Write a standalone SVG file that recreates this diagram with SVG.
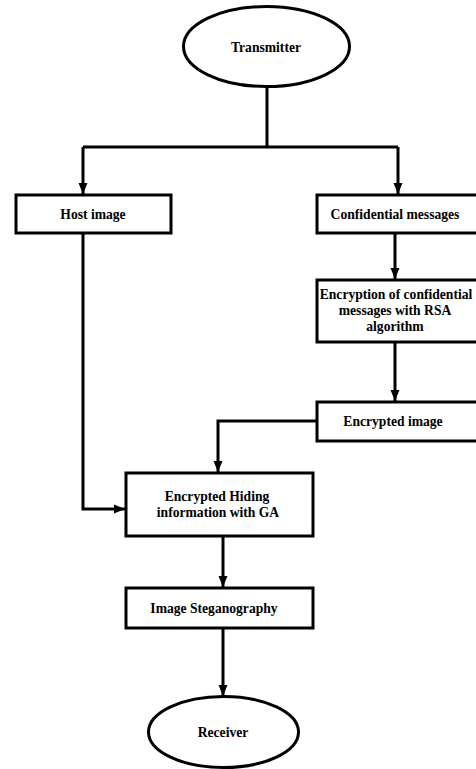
<svg xmlns="http://www.w3.org/2000/svg" width="476" height="769" viewBox="0 0 476 769">
<style>
.n{fill:#fff;stroke:#000;stroke-width:3}
.c{fill:none;stroke:#000;stroke-width:3}
text{font-family:"Liberation Serif","Times New Roman",serif;font-weight:bold;font-size:13.6px;text-anchor:middle;fill:#000}
</style>
<defs>
<marker id="ah" markerUnits="userSpaceOnUse" markerWidth="12" markerHeight="12" viewBox="0 0 12 12" refX="11" refY="6" orient="auto">
<path d="M0,1.5 L11,6 L0,10.5 Z" fill="#000"/>
</marker>
</defs>
<rect width="476" height="769" fill="#fff"/>
<g id="connectors">
<path class="c" d="M267,87 V147"/>
<path class="c" d="M83,147 H398"/>
<path class="c" d="M83,147 V194" marker-end="url(#ah)"/>
<path class="c" d="M398,147 V194" marker-end="url(#ah)"/>
<path class="c" d="M395,233 V279" marker-end="url(#ah)"/>
<path class="c" d="M395,342 V401" marker-end="url(#ah)"/>
<path class="c" d="M317,421 H218 V472" marker-end="url(#ah)"/>
<path class="c" d="M83,233 V509 H125" marker-end="url(#ah)"/>
<path class="c" d="M223,536 V587" marker-end="url(#ah)"/>
<path class="c" d="M223,628 V696" marker-end="url(#ah)"/>
</g>
<g id="transmitter">
<ellipse class="n" cx="266.5" cy="46.5" rx="83" ry="40"/>
<text x="266" y="52">Transmitter</text>
</g>
<g id="host">
<rect class="n" x="16" y="195" width="155" height="38"/>
<text x="93" y="219">Host image</text>
</g>
<g id="confidential">
<rect class="n" x="317" y="195" width="170" height="38"/>
<text x="395" y="219">Confidential messages</text>
</g>
<g id="encryption">
<rect class="n" x="317" y="280" width="170" height="62"/>
<text x="396" y="299">Encryption of confidential</text>
<text x="395" y="315">messages with RSA</text>
<text x="395" y="331">algorithm</text>
</g>
<g id="encrypted_image">
<rect class="n" x="317" y="402" width="170" height="39"/>
<text x="393" y="426">Encrypted image</text>
</g>
<g id="hiding">
<rect class="n" x="126" y="473" width="187" height="63"/>
<text x="217" y="501">Encrypted Hiding</text>
<text x="218" y="517">information with GA</text>
</g>
<g id="steganography">
<rect class="n" x="126" y="588" width="187" height="40"/>
<text x="214" y="613">Image Steganography</text>
</g>
<g id="receiver">
<ellipse class="n" cx="223.5" cy="732" rx="75" ry="35.5"/>
<text x="223" y="737">Receiver</text>
</g>
</svg>
